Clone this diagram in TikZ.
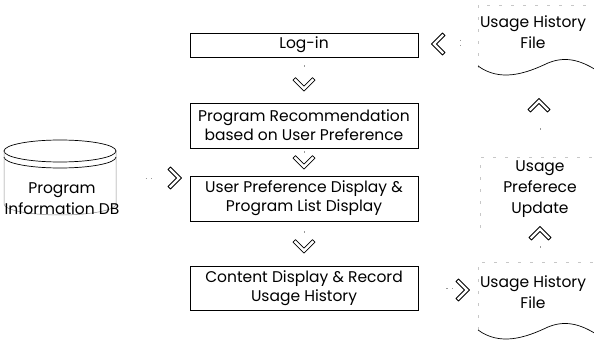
\documentclass[tikz,border=0pt]{standalone}
\usepackage{fontspec}
\usetikzlibrary{calc}
\setmainfont{Poppins}
\tikzset{
  box/.style={draw, line width=0.9pt, minimum width=228pt, align=center, inner sep=0pt, font=\fontsize{15.5}{19}\selectfont},
  txt/.style={align=center, inner sep=0pt, font=\fontsize{15.5}{21}\selectfont},
  shaft/.style={draw=black!40, line width=0.5pt, dash pattern=on 1.5pt off 4pt},
  faint/.style={draw=black!22, line width=0.5pt, dash pattern=on 3pt off 9pt},
  chevstyle/.style={draw, fill=white, line width=0.75pt, line join=round},
  chevd/.pic={\draw[chevstyle] (-11pt,4.5pt) -- (0pt,-6.5pt) -- (11pt,4.5pt) -- (8.5pt,7pt) -- (0pt,-1.5pt) -- (-8.5pt,7pt) -- cycle;}
}
\begin{document}
\begin{tikzpicture}[x=1pt,y=-1pt]
\useasboundingbox (0,0) rectangle (594,363);
% centre column
\node[box, minimum height=24pt] (login) at (304,45) {Log-in};
\node[box, minimum height=45pt] (rec) at (304,125.5) {Program Recommendation\\based on User Preference};
\node[box, minimum height=45pt] (upd) at (304,198.5) {User Preference Display \&\\Program List Display};
\node[box, minimum height=44pt] (cont) at (304,288) {Content Display \& Record\\Usage History};
% database
\draw[line width=0.7pt] (60,151) ellipse [x radius=56pt, y radius=11pt];
\draw[line width=0.7pt] (4,157) arc [start angle=180, end angle=360, x radius=56pt, y radius=11pt];
\draw[line width=0.5pt, black!45] (4,151) -- (4,204) arc [start angle=180, end angle=360, x radius=56pt, y radius=11pt] -- (116,151);
\node[txt] (db) at (62,199) {Program\\Information DB};
% right column
\node[txt] (hf1) at (533,32) {Usage History\\File};
\draw[faint] (478,68) -- (478,5) -- (596,5);
\draw[line width=0.7pt] (478,66) .. controls (500,82) and (525,74) .. (548,63) .. controls (565,56) and (580,60) .. (596,70);
\node[txt] (pu) at (540,189) {Usage\\Preferece\\Update};
\draw[faint] (480,228) -- (480,157) -- (596,157);
\coordinate (put) at (540,157);
\node[txt] (hf2) at (533,292) {Usage History\\File};
\draw[faint] (478,330) -- (478,262) -- (596,262);
\draw[line width=0.7pt] (478,330) .. controls (500,346) and (525,338) .. (548,327) .. controls (565,320) and (580,324) .. (596,334);
\coordinate (hf2t) at (540,262);
% connectors
\coordinate (c1) at ($(rec.north)+(0,-18)$);
\draw[shaft] (login.south) ++(0,8) -- ++(0,4);
\pic at (c1) {chevd};
\coordinate (c2) at ($(upd.north)+(0,-13)$);
\draw[shaft] (rec.south) ++(0,3) -- ++(0,2);
\pic at (c2) {chevd};
\coordinate (c3) at ($(cont.north)+(0,-19)$);
\draw[shaft] (upd.south) ++(0,10) -- ++(0,4);
\pic at (c3) {chevd};
\coordinate (c4) at (175,178);
\draw[shaft] (db.east |- c4) ++(26,0) -- ++(6,0);
\pic[rotate=90] at (c4) {chevd};
\coordinate (c5) at (438,44);
\draw[shaft] (hf1.west) ++(-20,8) -- ++(0,6);
\pic[rotate=-90] at (c5) {chevd};
\coordinate (c6) at (463,290);
\draw[shaft] (cont.east) ++(28,0) -- ++(6,0);
\pic[rotate=90] at (c6) {chevd};
\coordinate (c7) at (539,105);
\draw[shaft] (put) ++(0,-27) -- ++(0,-4);
\pic[rotate=180] at (c7) {chevd};
\coordinate (c8) at (540,233);
\draw[shaft] (hf2t) ++(0,-14) -- ++(0,-4);
\pic[rotate=180] at (c8) {chevd};
\end{tikzpicture}
\end{document}
